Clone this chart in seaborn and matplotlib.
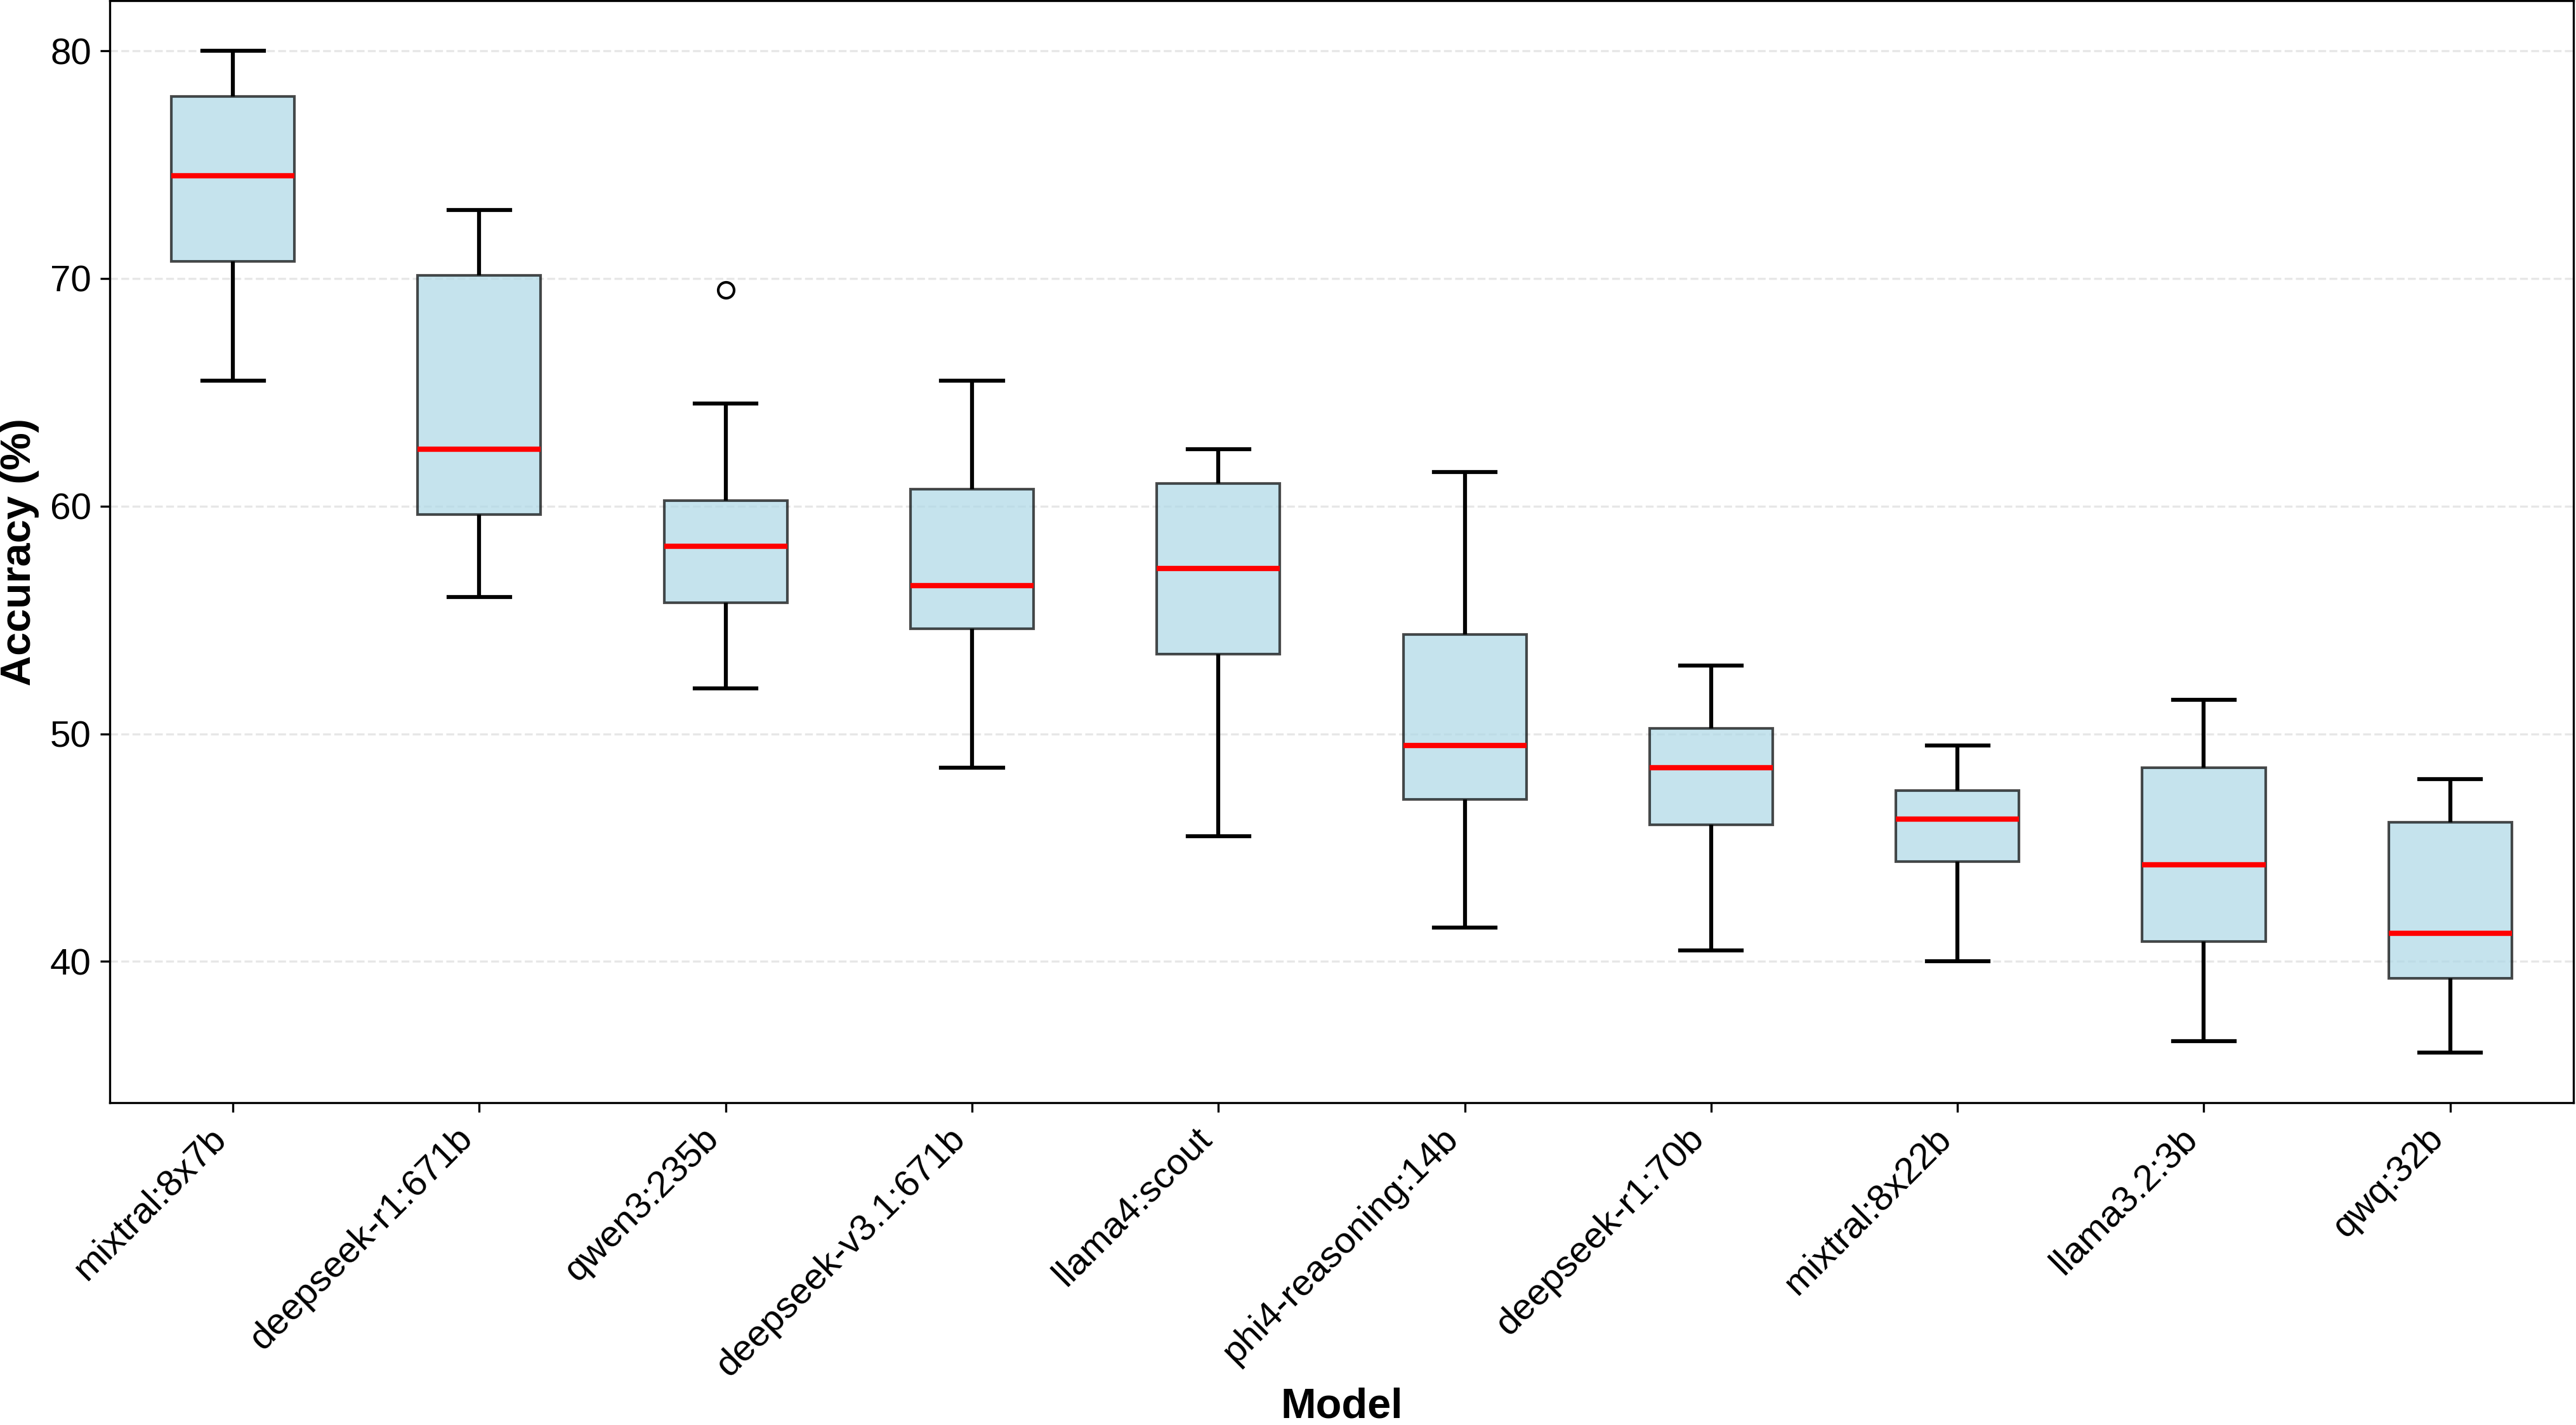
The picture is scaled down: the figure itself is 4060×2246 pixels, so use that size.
import matplotlib
matplotlib.use('Agg')
import matplotlib.pyplot as plt
import pandas as pd
import seaborn as sns

plt.rcParams['font.family'] = ['Liberation Sans', 'DejaVu Sans']

# models in plotted order
models = ['mixtral:8x7b', 'deepseek-r1:671b', 'qwen3:235b', 'deepseek-v3.1:671b',
          'llama4:scout', 'phi4-reasoning:14b', 'deepseek-r1:70b', 'mixtral:8x22b',
          'llama3.2:3b', 'qwq:32b']

# accuracy (%) samples per model
mixtral_8x7b = [65.5, 70.75, 74.5, 78.0, 80.0]
deepseek_r1_671b = [56.0, 59.625, 62.5, 70.125, 73.0]
qwen3_235b = [52.0, 55.75, 55.75, 58.25, 58.25, 60.25, 60.25, 64.5, 69.5]
deepseek_v31_671b = [48.5, 54.625, 56.5, 60.75, 65.5]
llama4_scout = [45.5, 53.5, 57.25, 61.0, 62.5]
phi4_reasoning_14b = [41.5, 47.125, 49.5, 54.375, 61.5]
deepseek_r1_70b = [40.5, 46.0, 48.5, 50.25, 53.0]
mixtral_8x22b = [40.0, 44.375, 46.25, 47.5, 49.5]
llama32_3b = [36.5, 40.875, 44.25, 48.5, 51.5]
qwq_32b = [36.0, 39.25, 41.25, 46.125, 48.0]

scores = [mixtral_8x7b, deepseek_r1_671b, qwen3_235b, deepseek_v31_671b, llama4_scout,
          phi4_reasoning_14b, deepseek_r1_70b, mixtral_8x22b, llama32_3b, qwq_32b]

rows = [(m, v) for m, vals in zip(models, scores) for v in vals]
df = pd.DataFrame(rows, columns=['Model', 'Accuracy'])

fig, ax = plt.subplots(figsize=(4060 / 300, 2246 / 300), dpi=300)
fig.subplots_adjust(left=0.0426, right=0.999, top=0.9995, bottom=0.2262)

sns.boxplot(data=df, x='Model', y='Accuracy', order=models, width=0.5, ax=ax,
            fliersize=6,
            boxprops=dict(facecolor='lightblue', edgecolor='black', alpha=0.7, linewidth=1),
            medianprops=dict(color='red', linewidth=2),
            whiskerprops=dict(color='black', linewidth=1.5),
            capprops=dict(color='black', linewidth=1.5),
            flierprops=dict(marker='o', markerfacecolor='none', markeredgecolor='black'))

ax.grid(axis='y', linestyle='--', alpha=0.3)
ax.tick_params(labelsize=14)
plt.setp(ax.get_xticklabels(), rotation=45, ha='right')
ax.set_xlabel('Model', fontsize=16, fontweight='bold', labelpad=1.5)
ax.set_ylabel('Accuracy (%)', fontsize=16, fontweight='bold')

fig.savefig('out.png', dpi=300)
